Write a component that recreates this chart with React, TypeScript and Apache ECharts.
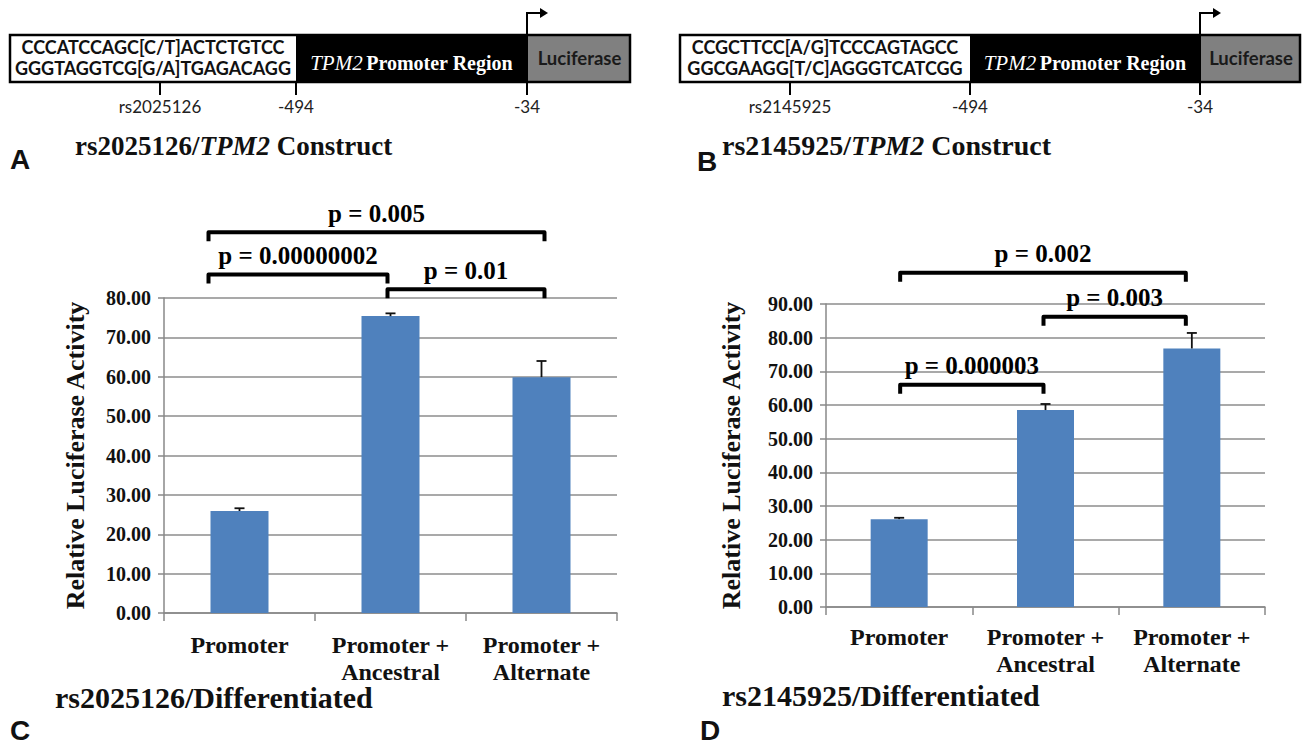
import React, { useEffect, useRef } from "react";
import * as echarts from "echarts";

// ---------- data ----------
const categories = ["Promoter", "Promoter +\nAncestral", "Promoter +\nAlternate"];

const valuesC = [25.9, 75.4, 59.9];
const errorsC = [0.7, 0.7, 4.1];
const valuesD = [26.1, 58.5, 76.8];
const errorsD = [0.4, 1.8, 4.6];

const yMaxC = 80;
const yMaxD = 90;
const yStep = 10;

const bracketsC = [
  { from: 0, to: 2, level: 96.7, label: "p = 0.005" },
  { from: 0, to: 1, level: 86.0, label: "p = 0.00000002" },
  { from: 1, to: 2, level: 82.2, label: "p = 0.01" },
];
const bracketsD = [
  { from: 0, to: 2, level: 99.3, label: "p = 0.002" },
  { from: 1, to: 2, level: 86.2, label: "p = 0.003" },
  { from: 0, to: 1, level: 66.0, label: "p = 0.000003" },
];

const constructA = {
  seq1: "CCCATCCAGC[C/T]ACTCTGTCC",
  seq2: "GGGTAGGTCG[G/A]TGAGACAGG",
  snp: "rs2025126",
  title: "rs2025126/",
};
const constructB = {
  seq1: "CCGCTTCC[A/G]TCCCAGTAGCC",
  seq2: "GGCGAAGG[T/C]AGGGTCATCGG",
  snp: "rs2145925",
  title: "rs2145925/",
};
const positionLabels = ["-494", "-34"];
const chartTitleC = "rs2025126/Differentiated";
const chartTitleD = "rs2145925/Differentiated";
const yAxisName = "Relative Luciferase Activity";

// ---------- styles ----------
const SERIF = "'Liberation Serif', 'Times New Roman', serif";
const SANS = "Lato, 'Liberation Sans', sans-serif";
const ARIAL = "'Liberation Sans', Arial, sans-serif";
const BAR = "#4f81bd";
const GRID = "#8c8c8c";
// pixel nudges of bracket ends relative to bar centres
const nudgeC = [[-31, 3], [-31, -3], [-3, 3]];
const nudgeD = [[1, -6], [-2, -6], [1, -2]];

function bracketSeries(idx: number, brackets: any[], nudges: number[][]) {
  return {
    type: "custom",
    xAxisIndex: idx,
    yAxisIndex: idx,
    clip: false,
    silent: true,
    z: 10,
    encode: { x: 0, y: 1 },
    data: brackets.map((b) => [b.from, b.level, b.to]),
    renderItem: (params: any, api: any) => {
      const i = params.dataIndex;
      const p1 = api.coord([api.value(0), api.value(1)]);
      const p2 = api.coord([api.value(2), api.value(1)]);
      const x1 = p1[0] + nudges[i][0];
      const x2 = p2[0] + nudges[i][1];
      const y = p1[1];
      return {
        type: "group",
        children: [
          {
            type: "polyline",
            shape: { points: [[x1, y + 9], [x1, y], [x2, y], [x2, y + 9]] },
            style: { stroke: "#000", lineWidth: 4, fill: null, lineJoin: "round" },
          },
          {
            type: "text",
            style: {
              text: brackets[i].label,
              x: (x1 + x2) / 2,
              y: y - 19,
              align: "center",
              verticalAlign: "middle",
              fontFamily: SERIF,
              fontWeight: "bold",
              fontSize: 25,
              fill: "#000",
            },
          },
        ],
      };
    },
  };
}

function errorSeries(idx: number, values: number[], errors: number[]) {
  return {
    type: "custom",
    xAxisIndex: idx,
    yAxisIndex: idx,
    clip: false,
    silent: true,
    z: 5,
    encode: { x: 0, y: 1 },
    data: values.map((v, i) => [i, v, v + errors[i]]),
    renderItem: (params: any, api: any) => {
      const b = api.coord([api.value(0), api.value(1)]);
      const t = api.coord([api.value(0), api.value(2)]);
      const st = { stroke: "#111", lineWidth: 1.8 };
      return {
        type: "group",
        children: [
          { type: "line", shape: { x1: b[0], y1: b[1], x2: t[0], y2: t[1] }, style: st },
          { type: "line", shape: { x1: t[0] - 5, y1: t[1], x2: t[0] + 5, y2: t[1] }, style: st },
        ],
      };
    },
  };
}

function xAxis(idx: number, margin: number) {
  return {
    type: "category",
    gridIndex: idx,
    data: categories,
    axisLine: { show: true, lineStyle: { color: "#888", width: 1.5 } },
    axisTick: { show: true, length: 8, lineStyle: { color: "#888", width: 1.5 } },
    axisLabel: {
      interval: 0,
      margin,
      color: "#111",
      fontFamily: SERIF,
      fontWeight: "bold",
      fontSize: 24,
      lineHeight: 27,
    },
  };
}

function yAxis(idx: number, max: number, nameGap: number) {
  return {
    type: "value",
    gridIndex: idx,
    min: 0,
    max,
    interval: yStep,
    name: yAxisName,
    nameLocation: "middle",
    nameRotate: 90,
    nameGap,
    nameTextStyle: { fontFamily: SERIF, fontWeight: "bold", fontSize: 26, color: "#111" },
    axisLine: { show: true, lineStyle: { color: "#888", width: 1.5 } },
    axisTick: { show: true, length: 6, lineStyle: { color: "#888", width: 1.5 } },
    splitLine: { show: true, lineStyle: { color: GRID, width: 1.5 } },
    axisLabel: {
      margin: 13,
      color: "#111",
      fontFamily: SERIF,
      fontWeight: "bold",
      fontSize: 20,
      formatter: (v: number) => v.toFixed(2),
    },
  };
}

function construct(c: any, o: any) {
  const { x0, wWhite, wBlack, wGrey, snpX } = o;
  const top = 35;
  const h = 47;
  const xb = x0 + wWhite;
  const xg = xb + wBlack;
  const xe = xg + wGrey;
  const seqCx = x0 + wWhite / 2;
  const lbl = (text: string, x: number) => ({
    type: "text",
    style: { text, x, y: 106, align: "center", verticalAlign: "middle", fontFamily: SANS, fontSize: 17, fill: "#222" },
  });
  const tick = (x: number) => ({
    type: "line",
    shape: { x1: x, y1: top + h, x2: x, y2: top + h + 13 },
    style: { stroke: "#000", lineWidth: 2 },
  });
  return [
    { type: "rect", shape: { x: x0, y: top, width: wWhite, height: h }, style: { fill: "#fff" } },
    { type: "rect", shape: { x: xb, y: top, width: wBlack, height: h }, style: { fill: "#000" } },
    { type: "rect", shape: { x: xg, y: top, width: wGrey, height: h }, style: { fill: "#808080" } },
    { type: "rect", shape: { x: x0, y: top, width: xe - x0, height: h }, style: { fill: null, stroke: "#000", lineWidth: 2.5 } },
    { type: "line", shape: { x1: xg, y1: top, x2: xg, y2: top + h }, style: { stroke: "#000", lineWidth: 2 } },
    {
      type: "text",
      style: { text: c.seq1, x: seqCx, y: top + 12, align: "center", verticalAlign: "middle", fontFamily: SANS, fontWeight: "bold", fontSize: 18, fill: "#111" },
    },
    {
      type: "text",
      style: { text: c.seq2, x: seqCx, y: top + 33, align: "center", verticalAlign: "middle", fontFamily: SANS, fontWeight: "bold", fontSize: 18, fill: "#111" },
    },
    {
      type: "text",
      style: {
        text: "{i|TPM2} {n|Promoter Region}",
        x: xb + wBlack / 2,
        y: top + 28,
        align: "center",
        verticalAlign: "middle",
        rich: {
          i: { fontFamily: SERIF, fontStyle: "italic", fontSize: 21, fill: "#fff" },
          n: { fontFamily: SERIF, fontWeight: "bold", fontSize: 20, fill: "#fff" },
        },
      },
    },
    {
      type: "text",
      style: { text: "Luciferase", x: xg + wGrey / 2 + 1, y: top + 23, align: "center", verticalAlign: "middle", fontFamily: SANS, fontWeight: "bold", fontSize: 18.5, fill: "#1a1a1a" },
    },
    tick(snpX),
    tick(xb),
    tick(xg),
    lbl(c.snp, snpX),
    lbl(positionLabels[0], xb),
    lbl(positionLabels[1], xg),
    { type: "polyline", shape: { points: [[xg, top], [xg, 13], [xg + 15, 13]] }, style: { stroke: "#000", lineWidth: 2, fill: null } },
    { type: "polygon", shape: { points: [[xg + 13, 8], [xg + 21, 13], [xg + 13, 18]] }, style: { fill: "#000" } },
  ];
}

function richTitle(prefix: string, x: number, y: number, size: number) {
  return {
    type: "text",
    style: {
      text: `{n|${prefix}}{i|TPM2}{n| Construct}`,
      x,
      y,
      align: "left",
      verticalAlign: "middle",
      rich: {
        n: { fontFamily: SERIF, fontWeight: "bold", fontSize: size, fill: "#111" },
        i: { fontFamily: SERIF, fontWeight: "bold", fontStyle: "italic", fontSize: size, fill: "#111" },
      },
    },
  };
}

function plainText(text: string, x: number, y: number, font: string, size: number) {
  return {
    type: "text",
    style: { text, x, y, align: "left", verticalAlign: "middle", fontFamily: font, fontWeight: "bold", fontSize: size, fill: "#111" },
  };
}

export default function App() {
  const ref = useRef<HTMLDivElement>(null);
  useEffect(() => {
    if (!ref.current) return;
    const chart = echarts.init(ref.current, null, { renderer: "svg" });
    chart.setOption({
      animation: false,
      backgroundColor: "#fff",
      grid: [
        { left: 164, top: 298, width: 453, height: 315 },
        { left: 826, top: 304, width: 439, height: 303 },
      ],
      xAxis: [xAxis(0, 18), xAxis(1, 16)],
      yAxis: [yAxis(0, yMaxC, 76), yAxis(1, yMaxD, 82)],
      series: [
        { type: "bar", xAxisIndex: 0, yAxisIndex: 0, data: valuesC, barWidth: 58, itemStyle: { color: BAR }, silent: true },
        { type: "bar", xAxisIndex: 1, yAxisIndex: 1, data: valuesD, barWidth: 57, itemStyle: { color: BAR }, silent: true },
        errorSeries(0, valuesC, errorsC),
        errorSeries(1, valuesD, errorsD),
        bracketSeries(0, bracketsC, nudgeC),
        bracketSeries(1, bracketsD, nudgeD),
      ],
      graphic: [
        ...construct(constructA, { x0: 10, wWhite: 286, wBlack: 231, wGrey: 103, snpX: 160 }),
        ...construct(constructB, { x0: 680, wWhite: 290, wBlack: 230, wGrey: 100, snpX: 790 }),
        richTitle(constructA.title, 75, 146, 27),
        richTitle(constructB.title, 722, 145, 28),
        plainText("A", 10, 159, ARIAL, 28),
        plainText("B", 697, 161, ARIAL, 28),
        plainText(chartTitleC, 55, 697, SERIF, 30),
        plainText(chartTitleD, 722, 695, SERIF, 30),
        plainText("C", 10, 730, ARIAL, 28),
        plainText("D", 700, 730, ARIAL, 28),
      ],
    });
    return () => chart.dispose();
  }, []);
  return (
    <div
      ref={ref}
      style={{ position: "absolute", left: 0, top: 0, width: 1306, height: 745, background: "#fff" }}
    />
  );
}
